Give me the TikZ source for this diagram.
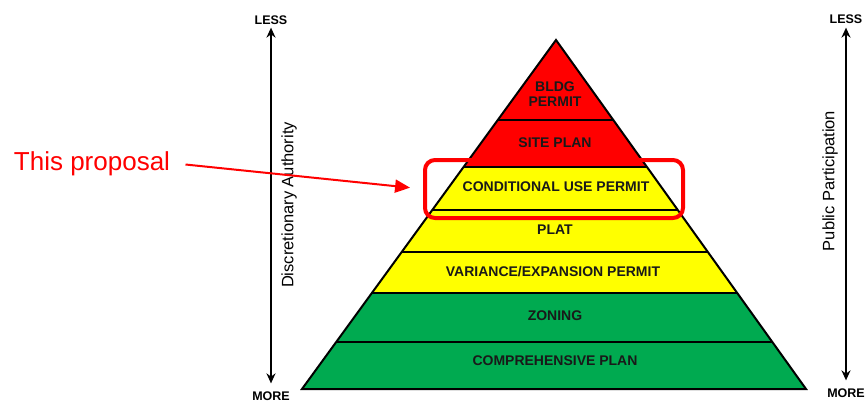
\documentclass[tikz,border=0pt]{standalone}
\usepackage{fontspec}
\setmainfont{Liberation Sans}
\usepackage{tikz}
\usetikzlibrary{arrows.meta}
\usetikzlibrary{positioning}

\definecolor{permitred}{RGB}{255,0,0}
\definecolor{permityellow}{RGB}{255,255,0}
\definecolor{permitgreen}{RGB}{0,170,80}
\definecolor{labelgray}{RGB}{25,25,25}

\tikzset{
	tier/.style={font=\bfseries\fontsize{14}{15}\selectfont, text=labelgray, align=center, inner sep=1pt},
	scalelabel/.style={font=\bfseries\fontsize{12.5}{14}\selectfont, inner sep=1pt},
	axislabel/.style={font=\fontsize{16.5}{18}\selectfont, rotate=90},
	axis/.style={draw=black, line width=2pt,
		{Stealth[length=10pt,width=9pt]}-{Stealth[length=10pt,width=9pt]}},
	divider/.style={draw=black, line width=2pt},
	highlight/.style={draw=permitred, line width=4pt, rounded corners=10pt,
		minimum width=258pt, minimum height=58pt, inner sep=0pt},
	pointer/.style={draw=permitred, line width=2pt, -{Triangle[length=15pt,width=13pt]}},
}

\begin{document}
\begin{tikzpicture}[x=1pt, y=-1pt]
	\useasboundingbox (0,0) rectangle (868,402);
	\coordinate (apex) at (556,40);
	\coordinate (baseL) at (302,389);
	\coordinate (baseR) at (806,389);
	% coloured tiers, cut to the pyramid
	\begin{scope}
		\clip (apex) -- (baseL) -- (baseR) -- cycle;
		\fill[permitred] (0,30) rectangle (868,167);
		\fill[permityellow] (0,167) rectangle (868,293);
		\fill[permitgreen] (0,293) rectangle (868,400);
		\draw[divider] (0,120) -- (868,120);
		\draw[divider] (0,167) -- (868,167);
		\draw[divider] (0,210) -- (868,210);
		\draw[divider] (0,252) -- (868,252);
		\draw[divider] (0,293) -- (868,293);
		\draw[divider] (0,342) -- (868,342);
	\end{scope}
	\draw[divider, line join=miter] (apex) -- (baseL) -- (baseR) -- cycle;

	\node[tier] (bldg) at (555,94) {BLDG\\PERMIT};
	\node[tier] (site) at (555,143) {SITE PLAN};
	\node[tier] (cup) at (556,187) {CONDITIONAL USE PERMIT};
	\node[tier] (plat) at (555,230) {PLAT};
	\node[tier] (variance) at (553,272) {VARIANCE/EXPANSION PERMIT};
	\node[tier] (zoning) at (555,316) {ZONING};
	\node[tier] (compplan) at (555,361) {COMPREHENSIVE PLAN};

	% left scale
	\node[scalelabel] (lessL) at (271,20) {LESS};
	\node[scalelabel] (moreL) at (271,396) {MORE};
	\draw[axis, shorten <=2pt, shorten >=7pt] (lessL) -- (moreL);
	\node[axislabel] (discretion) at (289,205) {Discretionary Authority};

	% right scale
	\node[scalelabel] (lessR) at (846,19) {LESS};
	\node[scalelabel] (moreR) at (846,393) {MORE};
	\draw[axis, shorten <=3pt, shorten >=7pt] (lessR) -- (moreR);
	\node[axislabel] (participation) at (830,181) {Public Participation};

	% callout
	\node[highlight] (cupbox) at (554,189) {};
	\node[font=\fontsize{26}{28}\selectfont, text=permitred, anchor=base] (proposal) at (92,170) {This proposal};
	\draw[pointer, shorten <=12pt, shorten >=13pt] (proposal.east) -- (cupbox.west);
\end{tikzpicture}
\end{document}
